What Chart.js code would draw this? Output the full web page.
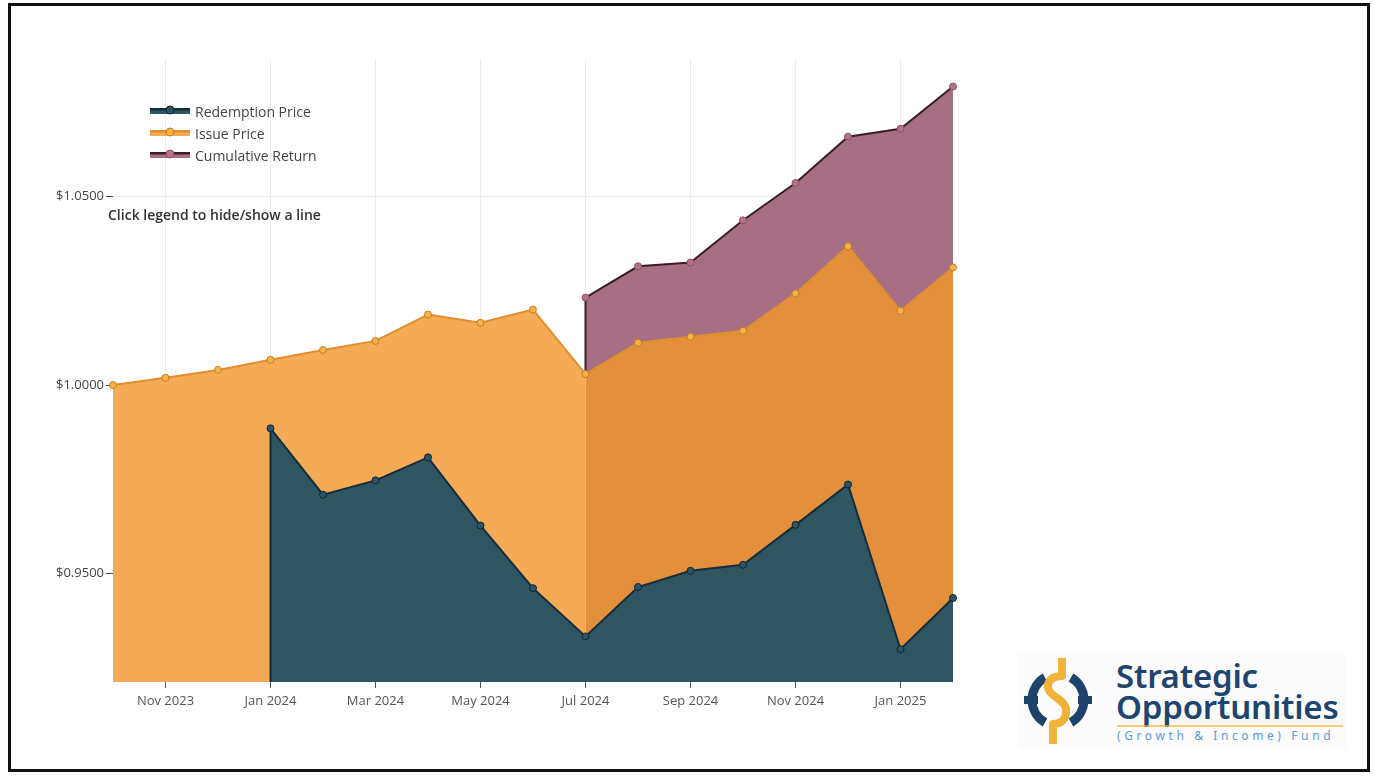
<!DOCTYPE html>
<html>
<head>
<meta charset="utf-8">
<script src="https://cdn.jsdelivr.net/npm/chart.js@4.4.1/dist/chart.umd.min.js"></script>
<style>
  html, body { margin: 0; padding: 0; background: #fff; }
  body { width: 1375px; height: 776px; position: relative; overflow: hidden; font-family: "Open Sans", sans-serif; }
  #frame { position: absolute; left: 8px; top: 3px; width: 1356px; height: 763px; border: 3px solid #111; }
  #wrap { position: absolute; left: 0; top: 0; width: 980px; height: 776px; }
  #legend { position: absolute; left: 150px; top: 100px; height: 62px; overflow: hidden; font-size: 14px; color: #444; }
  .item { display: flex; align-items: center; height: 22px; cursor: pointer; }
  .item svg { margin-right: 5px; }
  .item.off { opacity: 0.5; }
  #note { position: absolute; left: 108px; top: 205px; font-size: 14px; font-weight: 600; color: #333; }
  #logo { position: absolute; left: 1018px; top: 652px; width: 328px; height: 98px; background: #fcfcfc; }
  #logo .t { position: absolute; left: 98px; font-family: "Noto Sans", sans-serif; font-weight: 600; color: #1e4470; font-size: 33px; line-height: 33px; letter-spacing: -0.2px; }
  #logo .s { position: absolute; left: 99px; top: 75px; font-family: "Noto Sans", sans-serif; font-size: 12px; color: #5b9bd5; letter-spacing: 3.6px; white-space: nowrap; }
  #logo .rule { position: absolute; left: 99px; top: 73px; width: 226px; height: 2px; background: #f2b544; opacity: 0.7; }
</style>
</head>
<body>
<div id="frame"></div>
<div id="wrap"><canvas id="chart"></canvas></div>
<div id="legend"></div>
<div id="note">Click legend to hide/show a line</div>
<div id="logo">
  <svg width="90" height="98" style="position:absolute;left:0;top:0">
    <path d="M27 25.5 A26 26 0 0 0 27 70.5" fill="none" stroke="#1d426b" stroke-width="9"/>
    <path d="M53 25.5 A26 26 0 0 1 53 70.5" fill="none" stroke="#1d426b" stroke-width="9"/>
    <path d="M6 48 H20 M60 48 H74" stroke="#1d426b" stroke-width="8"/>
    <path d="M44 6 V24 C31 24 27 33 32 40 C37 46 47 49 48 57 C49 66 44 72 35 72 V92" fill="none" stroke="#f0b23a" stroke-width="8" stroke-linejoin="round"/>
  </svg>
  <div class="t" style="top:7px">Strategic</div>
  <div class="t" style="top:38px">Opportunities</div>
  <div class="rule"></div>
  <div class="s">(Growth &amp; Income) Fund</div>
</div>
<script>
const months = ['Oct 2023', 'Nov 2023', 'Dec 2023', 'Jan 2024', 'Feb 2024', 'Mar 2024', 'Apr 2024', 'May 2024', 'Jun 2024',
  'Jul 2024', 'Aug 2024', 'Sep 2024', 'Oct 2024', 'Nov 2024', 'Dec 2024', 'Jan 2025', 'Feb 2025'];
const redemption = [null, null, null, 0.9885, 0.9709, 0.9747, 0.9808, 0.9627, 0.9461,
  0.9333, 0.9464, 0.9507, 0.9523, 0.9629, 0.9736, 0.9299, 0.9435];
const issue = [1.0000, 1.0019, 1.0040, 1.0067, 1.0093, 1.0117, 1.0187, 1.0165, 1.0200,
  1.0029, 1.0112, 1.0128, 1.0144, 1.0243, 1.0368, 1.0197, 1.0312];
const cumulative = [null, null, null, null, null, null, null, null, null,
  1.0232, 1.0315, 1.0325, 1.0437, 1.0536, 1.0659, 1.0680, 1.0792];
const yTicks = [0.95, 1.00, 1.05];

// vertical edge where a series starts, like the filled area edge in the original
const edgePlugin = {
  id: 'edge',
  beforeDatasetDraw(chart, args) {
    if (args.index === 1) return;
    const meta = chart.getDatasetMeta(args.index);
    const j = meta.data.findIndex(p => !p.skip);
    if (j < 0) return;
    const first = meta.data[j];
    const { ctx, chartArea } = chart;
    let bottom = chartArea.bottom;
    // the cumulative edge stops where the issue price area begins
    if (args.index === 2 && chart.isDatasetVisible(1)) bottom = chart.getDatasetMeta(1).data[j].y;
    ctx.save();
    ctx.beginPath();
    ctx.rect(chartArea.left, chartArea.top, chartArea.right - chartArea.left, chartArea.bottom - chartArea.top);
    ctx.clip();
    ctx.strokeStyle = chart.data.datasets[args.index].borderColor;
    ctx.lineWidth = 2;
    ctx.beginPath();
    ctx.moveTo(first.x, first.y);
    ctx.lineTo(first.x, bottom);
    ctx.stroke();
    ctx.restore();
  }
};

const chart = new Chart(document.getElementById('chart'), {
  type: 'line',
  data: {
    labels: months,
    datasets: [
      {
        label: 'Redemption Price',
        data: redemption,
        borderColor: '#142d3b',
        backgroundColor: '#2f5462',
        pointBackgroundColor: '#2b5566',
        pointBorderColor: '#0f2530',
        fill: 'start',
      },
      {
        label: 'Issue Price',
        data: issue,
        borderColor: '#e08e2e',
        backgroundColor: '#f5aa55',
        pointBackgroundColor: '#f5b24a',
        pointBorderColor: '#c47f1f',
        fill: 'start',
        segment: {
          backgroundColor: c => c.p0DataIndex >= 9 ? '#e48f3c' : '#f5aa55',
        },
      },
      {
        label: 'Cumulative Return',
        data: cumulative,
        borderColor: '#3a1d29',
        backgroundColor: '#a76f83',
        pointBackgroundColor: '#b4718b',
        pointBorderColor: '#8e5268',
        fill: 'start',
      },
    ],
  },
  options: {
    responsive: true,
    maintainAspectRatio: false,
    animation: false,
    layout: { padding: { left: 13, right: 27, top: 59, bottom: 54 } },
    elements: {
      line: { borderWidth: 2, tension: 0 },
      point: { radius: 3.5, borderWidth: 1, hoverRadius: 5 },
    },
    scales: {
      x: {
        border: { display: false },
        grid: {
          color: c => (c.index % 2 === 1 ? '#ececec' : 'rgba(0,0,0,0)'),
          tickColor: c => (c.index % 2 === 1 ? '#555' : 'rgba(0,0,0,0)'),
          tickLength: 6,
        },
        ticks: {
          autoSkip: false,
          maxRotation: 0,
          padding: 5,
          color: '#555',
          font: { family: 'Open Sans', size: 13 },
          callback: function (v, i) { return i % 2 === 1 ? this.getLabelForValue(v) : ''; },
        },
        afterFit: s => { s.height = 40; },
      },
      y: {
        min: 0.9212,
        max: 1.0865,
        border: { display: false },
        grid: { color: '#ececec', tickColor: '#444', tickLength: 7 },
        afterBuildTicks: s => { s.ticks = yTicks.map(v => ({ value: v })); },
        ticks: {
          padding: 2,
          color: '#444',
          font: { family: 'Open Sans', size: 13 },
          callback: v => '$' + v.toFixed(4),
        },
        afterFit: s => { s.width = 100; },
      },
    },
    plugins: {
      legend: { display: false },
      tooltip: { enabled: true },
    },
  },
  plugins: [edgePlugin],
});

// legend
const legend = document.getElementById('legend');
chart.data.datasets.forEach((ds, i) => {
  const item = document.createElement('div');
  item.className = 'item';
  const top = i === 1 ? ds.borderColor : (i === 0 ? '#142d3b' : '#3a1d29');
  item.innerHTML =
    '<svg width="40" height="12"><rect x="0" y="3" width="40" height="6" fill="' + ds.backgroundColor + '"/>' +
    '<rect x="0" y="3" width="40" height="2.5" fill="' + top + '"/>' +
    '<circle cx="20" cy="5" r="4" fill="' + ds.pointBackgroundColor + '" stroke="' + ds.pointBorderColor + '"/></svg>' +
    '<span>' + ds.label + '</span>';
  item.onclick = () => {
    const vis = chart.isDatasetVisible(i);
    chart.setDatasetVisibility(i, !vis);
    item.classList.toggle('off', vis);
    chart.update();
  };
  legend.appendChild(item);
});
</script>
</body>
</html>
